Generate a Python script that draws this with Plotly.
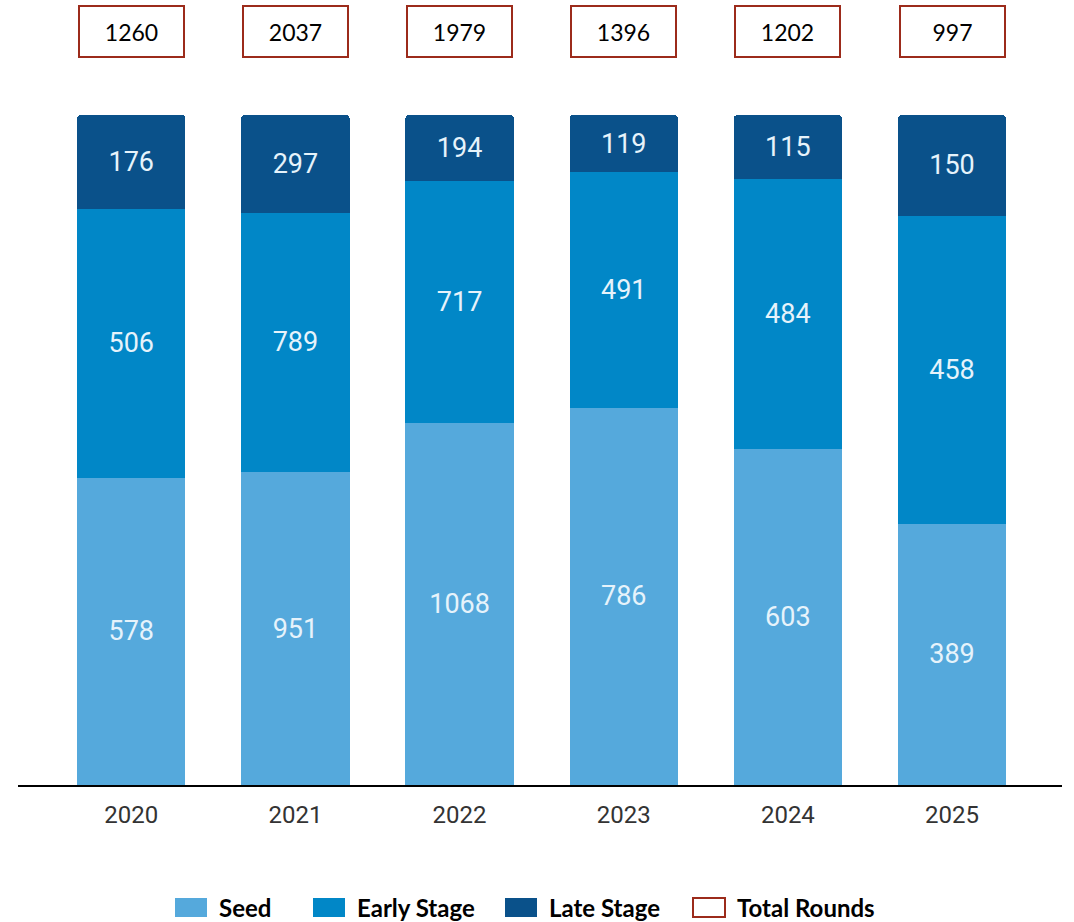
import plotly.graph_objects as go

# Datos
anios = ["2020", "2021", "2022", "2023", "2024", "2025"]
seed = [578, 951, 1068, 786, 603, 389]
early_stage = [506, 789, 717, 491, 484, 458]
late_stage = [176, 297, 194, 119, 115, 150]
total_rounds = [1260, 2037, 1979, 1396, 1202, 997]

series = [
    ("Seed", seed, "#55A9DC"),
    ("Early Stage", early_stage, "#0187C7"),
    ("Late Stage", late_stage, "#0A518A"),
]

fig = go.Figure()

for nombre, valores, color in series:
    fig.add_trace(
        go.Bar(
            x=anios,
            y=valores,
            name=nombre,
            text=valores,
            textposition="inside",
            insidetextanchor="middle",
            textangle=0,
            textfont=dict(family="Roboto", size=27, color="#E6F3FB"),
            marker=dict(color=color, line=dict(width=0)),
            width=0.66,
            showlegend=False,
        )
    )

# Cajitas con el total arriba de cada barra (x = índice de la categoría)
for i, total in enumerate(total_rounds):
    fig.add_annotation(
        x=i,
        y=1.1246,
        xref="x",
        yref="paper",
        yanchor="middle",
        text=str(total),
        showarrow=False,
        width=103,
        height=49,
        borderpad=0,
        bordercolor="#9C2B1B",
        borderwidth=2,
        bgcolor="white",
        font=dict(family="Lato", size=23, color="black"),
    )

# Leyenda hecha a mano (cuadros anchos como en el original)
leyenda = [
    ("Seed", 175, "#55A9DC", None),
    ("Early Stage", 313, "#0187C7", None),
    ("Late Stage", 505, "#0A518A", None),
    ("Total Rounds", 693, "white", "#9C2B1B"),
]
for texto, x0, relleno, borde in leyenda:
    fig.add_shape(
        type="rect",
        xref="paper",
        yref="paper",
        x0=(x0 - 18) / 1044,
        x1=(x0 + 32 - 18) / 1044,
        y0=(785 - 898) / 670,
        y1=(785 - 917) / 670,
        fillcolor=relleno,
        line=dict(color=borde if borde else relleno, width=2 if borde else 0),
        layer="above",
    )
    fig.add_annotation(
        x=(x0 + 42 - 18) / 1044,
        y=(785 - 907) / 670,
        xref="paper",
        yref="paper",
        xanchor="left",
        yanchor="middle",
        text=f"<b>{texto}</b>",
        showarrow=False,
        font=dict(family="Lato", size=24, color="black"),
    )

fig.update_layout(
    barmode="stack",
    barnorm="fraction",
    barcornerradius=4,
    width=1074,
    height=922,
    plot_bgcolor="white",
    paper_bgcolor="white",
    margin=dict(l=18, r=12, t=115, b=137),
    showlegend=False,
    uniformtext=dict(mode="show", minsize=10),
)

fig.update_xaxes(
    type="category",
    range=[-0.69, 5.67],
    showgrid=False,
    showline=True,
    linecolor="black",
    linewidth=2,
    ticks="outside",
    ticklen=7,
    tickcolor="rgba(0,0,0,0)",
    tickfont=dict(family="Roboto", size=24, color="#333333"),
)

fig.update_yaxes(
    range=[0, 1],
    showgrid=False,
    showticklabels=False,
    zeroline=False,
)

# quitar el margen del body para que la figura quede en (0,0)
fig.write_html(
    "out.html",
    config={"displayModeBar": False},
    post_script="document.body.style.margin='0';",
)
